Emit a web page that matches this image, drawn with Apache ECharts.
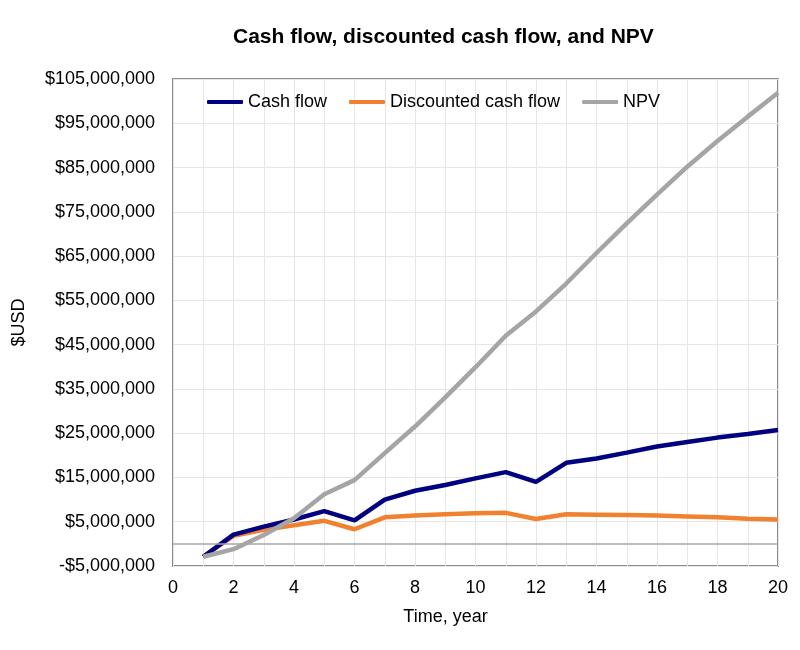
<!DOCTYPE html>
<html lang="en">
<head>
    <meta charset="UTF-8">
    <title>Cash flow, discounted cash flow, and NPV</title>
    <script src="https://cdn.jsdelivr.net/npm/echarts@6/dist/echarts.min.js"></script>
    <style>
        html, body { margin: 0; padding: 0; background: #fff; }
        #main { width: 800px; height: 650px; }
    </style>
</head>
<body>
<div id="main"></div>
<script type="text/javascript">
    // values, in USD
    var years = [1, 2, 3, 4, 5, 6, 7, 8, 9, 10, 11, 12, 13, 14, 15, 16, 17, 18, 19, 20];
    var cashFlow = [-2900000, 2100000, 3900000, 5500000, 7400000, 5300000, 10000000, 12000000, 13300000, 14800000,
        16200000, 14000000, 18300000, 19300000, 20600000, 22000000, 23000000, 24000000, 24800000, 25700000];
    var discounted = [-2900000, 1800000, 3200000, 4200000, 5200000, 3300000, 6000000, 6400000, 6700000, 6900000,
        7000000, 5600000, 6700000, 6600000, 6500000, 6400000, 6200000, 6000000, 5700000, 5500000];
    var npv = [-2900000, -1200000, 2000000, 5800000, 11200000, 14400000, 20500000, 26500000, 33100000, 39900000,
        47000000, 52500000, 58800000, 65700000, 72400000, 78900000, 85200000, 91000000, 96500000, 101900000];

    var font = 'Liberation Sans, Arial, sans-serif';

    function pairs(vals) {
        return years.map(function (y, i) { return [y, vals[i]]; });
    }

    function money(v) {
        var s = Math.abs(v).toFixed(0).replace(/\B(?=(\d{3})+(?!\d))/g, ',');
        return (v < 0 ? '-$' : '$') + s;
    }

    var myChart = echarts.init(document.getElementById('main'));
    var option = {
        animation: false,
        title: {
            text: 'Cash flow, discounted cash flow, and NPV',
            left: 228,
            top: 22,
            textStyle: { fontFamily: font, fontSize: 21, fontWeight: 'bold', color: '#000' }
        },
        legend: {
            left: 207,
            top: 93,
            padding: 0,
            icon: 'roundRect',
            itemWidth: 36,
            itemHeight: 4,
            itemGap: 22,
            textStyle: { fontFamily: font, fontSize: 18, color: '#000' },
            data: ['Cash flow', 'Discounted cash flow', 'NPV']
        },
        grid: {
            left: 173,
            right: 22,
            top: 79,
            bottom: 84,
            show: true,
            borderColor: '#8c8c8c',
            borderWidth: 2
        },
        xAxis: {
            type: 'value',
            min: 0,
            max: 20,
            interval: 2,
            name: 'Time, year',
            nameLocation: 'middle',
            nameGap: 42,
            nameTextStyle: { fontFamily: font, fontSize: 18, color: '#000', padding: [0, 60, 0, 0] },
            axisLine: { show: false },
            axisTick: { show: false },
            axisLabel: { fontFamily: font, fontSize: 18, color: '#000', margin: 13 },
            splitLine: { lineStyle: { color: '#e6e6e6', width: 1 } },
            minorTick: { show: false, splitNumber: 2 },
            minorSplitLine: { show: true, lineStyle: { color: '#e6e6e6', width: 1 } }
        },
        yAxis: {
            type: 'value',
            min: -5000000,
            max: 105000000,
            interval: 10000000,
            name: '$USD',
            nameLocation: 'middle',
            nameGap: 145,
            nameTextStyle: { fontFamily: font, fontSize: 18, color: '#000' },
            axisLine: { show: false },
            axisTick: { show: false },
            axisLabel: { fontFamily: font, fontSize: 18, color: '#000', margin: 18, formatter: money },
            splitLine: { lineStyle: { color: '#e6e6e6', width: 1 } }
        },
        series: [
            {
                name: 'Cash flow',
                type: 'line',
                data: pairs(cashFlow),
                showSymbol: false,
                symbol: 'none',
                color: '#000080',
                lineStyle: { width: 4.5, color: '#000080' },
                z: 3,
                markLine: {
                    silent: true,
                    symbol: 'none',
                    label: { show: false },
                    lineStyle: { color: '#a6a6a6', width: 1.5, type: 'solid' },
                    data: [{ yAxis: 0 }]
                }
            },
            {
                name: 'Discounted cash flow',
                type: 'line',
                data: pairs(discounted),
                showSymbol: false,
                symbol: 'none',
                color: '#f0822f',
                lineStyle: { width: 4.5, color: '#f0822f' },
                z: 2
            },
            {
                name: 'NPV',
                type: 'line',
                data: pairs(npv),
                showSymbol: false,
                symbol: 'none',
                color: '#a5a5a5',
                lineStyle: { width: 4.5, color: '#a5a5a5' },
                z: 4
            }
        ]
    };
    myChart.setOption(option);
</script>
</body>
</html>
